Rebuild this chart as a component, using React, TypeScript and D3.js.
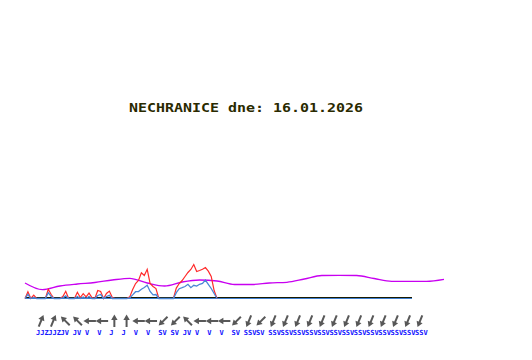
import React from "react";
import * as d3 from "d3";

const TITLE = "NECHRANICE dne: 16.01.2026";

// purple line, sampled every 3 hours (0..72 h)
const TEMP_HOURS = [0, 3, 6, 9, 12, 15, 18, 21, 24, 27, 30, 33, 36, 39, 42, 45, 48, 51, 54, 57, 60, 63, 66, 69, 72];
const TEMP = [7.75, 4.4, 6.25, 7.25, 8, 9.25, 10.1, 7.75, 6.25, 8.25, 9.25, 8.75, 7, 7, 7.75, 8.1, 9.75, 11.5, 11.6, 11.5, 10, 8.6, 8.6, 8.6, 9.6];

// measured series, every half hour from 0 h
const GUST = [0, 3.4, 0, 1.7, 0, 0, 0, 0, 4.6, 2.0, 0, 0, 0, 1.0, 3.6, 0, 0, 0, 3.1, 0.5, 2.4, 0.8, 2.7, 0.5, 0, 4.0, 3.5, 0, 2.5, 3.7, 0.5, 0, 0, 0, 0, 0, 0.8, 4.5, 7.5, 9.0, 12.9, 11.5, 14.6, 7.5, 6.0, 5.0, 0, 0, 0, 0, 0, 0, 5.2, 7.5, 9.0, 11.0, 13.0, 14.5, 17.0, 13.5, 14.0, 14.6, 15.5, 13.7, 11.0, 4.0, 0];
const SPEED = [0, 2.1, 0, 0.5, 0, 0, 0, 0, 2.9, 1.0, 0, 0, 0, 0.3, 1.3, 0, 0, 0, 1.0, 0, 0.8, 0, 1.0, 0, 0, 1.5, 2.0, 0, 1.0, 1.6, 0, 0, 0, 0, 0, 0, 0.3, 1.8, 3.4, 3.5, 4.6, 5.5, 6.6, 3.5, 1.8, 2.0, 0, 0, 0, 0, 0, 0, 2.9, 4.9, 5.4, 6.0, 7.1, 5.4, 6.6, 6.2, 7.1, 7.5, 9.2, 7.1, 5.0, 2.5, 0];
const SERIES_STEP_HOURS = 0.5;
const AXIS_END_HOURS = 66.5;

const WIND_LABELS = [
  "JJZ", "JJZ", "JV", "JV", "V", "V", "J", "J", "V", "V", "SV", "SV", "JV", "V", "V", "V",
  "SV", "SSV", "SV", "SSV", "SSV", "SSV", "SSV", "SSV", "SSV", "SSV", "SSV", "SSV", "SSV", "SSV", "SSV", "SSV",
];

const COMPASS: Record<string, number> = {
  S: 0, SSV: 22.5, SV: 45, VSV: 67.5, V: 90, VJV: 112.5, JV: 135, JJV: 157.5,
  J: 180, JJZ: 202.5, JZ: 225, ZJZ: 247.5, Z: 270, ZSZ: 292.5, SZ: 315, SSZ: 337.5,
};

export default function App() {
  const W = 532, H = 360;
  const x = d3.scaleLinear().domain([0, 72]).range([25, 444]);
  const y = d3.scaleLinear().domain([0, 20]).range([298.5, 258.5]);

  const tempLine = d3.line<number>()
    .x((_, i) => x(TEMP_HOURS[i]))
    .y((d) => y(d))
    .curve(d3.curveMonotoneX);
  const seriesLine = d3.line<number>()
    .x((_, i) => x(i * SERIES_STEP_HOURS))
    .y((d) => y(d));

  const windX = d3.scalePoint<number>()
    .domain(WIND_LABELS.map((_, i) => i))
    .range([41, 420]);

  return (
    <svg width={W} height={H} style={{ position: "absolute", left: 0, top: 0, background: "#fff" }}>
      <text x={129} y={112} textLength={234} lengthAdjust="spacingAndGlyphs"
        fontFamily="DejaVu Sans Mono" fontWeight="bold" fontSize={12.5} fill="#2a2a00">{TITLE}</text>

      {/* baseline */}
      <line x1={x(0)} x2={x(AXIS_END_HOURS)} y1={297.5} y2={297.5} stroke="#1a1a00" strokeWidth={1} shapeRendering="crispEdges" />
      <line x1={x(0)} x2={x(AXIS_END_HOURS)} y1={y(0)} y2={y(0)} stroke="#3f7fcf" strokeWidth={1} shapeRendering="crispEdges" />

      <path d={tempLine(TEMP) || ""} fill="none" stroke="#c800f0" strokeWidth={1.3} />
      <path d={seriesLine(GUST) || ""} fill="none" stroke="#ff2a2a" strokeWidth={1.2} />
      <path d={seriesLine(SPEED) || ""} fill="none" stroke="#4a86d6" strokeWidth={1.3} />

      {WIND_LABELS.map((lab, i) => {
        const cx = windX(i) as number;
        const rot = (COMPASS[lab] + 180) % 360;
        return (
          <g key={i}>
            <g transform={`translate(${cx},321) rotate(${rot})`}>
              <line x1={0} y1={6} x2={0} y2={-2} stroke="#585858" strokeWidth={2} />
              <path d="M0,-6.5 L-3.2,-1 L3.2,-1 Z" fill="#585858" />
            </g>
            <text x={cx - 5} y={334.5} fontFamily="DejaVu Sans Mono" fontSize={7} fontWeight="bold" fill="#1010ff">{lab}</text>
          </g>
        );
      })}
    </svg>
  );
}
